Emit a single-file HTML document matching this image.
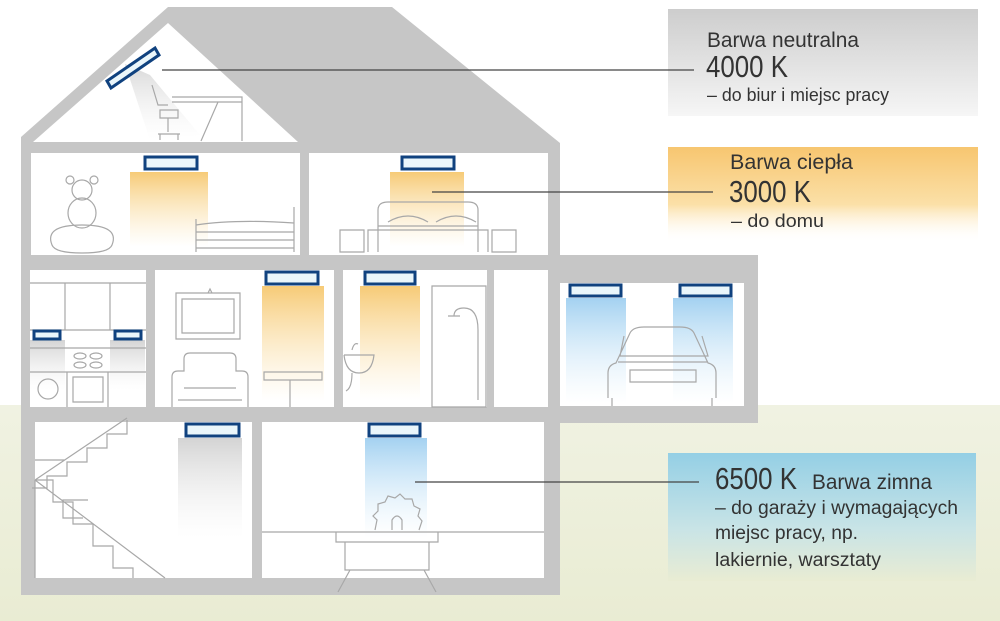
<!DOCTYPE html>
<html><head><meta charset="utf-8"><style>
html,body{margin:0;padding:0;background:#fff}
svg{display:block}
text{font-family:"Liberation Sans Narrow","Liberation Sans",sans-serif;fill:#333}
</style></head><body>
<svg width="1000" height="621" viewBox="0 0 1000 621" xmlns="http://www.w3.org/2000/svg">
<defs>
<linearGradient id="gbg" x1="0" y1="0" x2="0" y2="1"><stop offset="0" stop-color="#f0f2e2"/><stop offset="1" stop-color="#e9ecd3"/></linearGradient>
<linearGradient id="warm" x1="0" y1="0" x2="0" y2="1"><stop offset="0" stop-color="#f6c870" stop-opacity="0.95"/><stop offset="1" stop-color="#fbe3b0" stop-opacity="0"/></linearGradient>
<linearGradient id="cool" x1="0" y1="0" x2="0" y2="1"><stop offset="0" stop-color="#9fcff0" stop-opacity="0.95"/><stop offset="1" stop-color="#d6ecfa" stop-opacity="0"/></linearGradient>
<linearGradient id="neut" x1="0" y1="0" x2="0" y2="1"><stop offset="0" stop-color="#cfcfcf" stop-opacity="0.9"/><stop offset="1" stop-color="#eee" stop-opacity="0"/></linearGradient>
<linearGradient id="pgray" x1="0" y1="0" x2="0" y2="1"><stop offset="0" stop-color="#cdcdcd"/><stop offset="1" stop-color="#f6f6f6"/></linearGradient>
<linearGradient id="porange" x1="0" y1="0" x2="0" y2="1"><stop offset="0" stop-color="#f7c670"/><stop offset="0.6" stop-color="#fbe0a8"/><stop offset="1" stop-color="#fff" stop-opacity="0"/></linearGradient>
<linearGradient id="pblue" x1="0" y1="0" x2="0" y2="1"><stop offset="0" stop-color="#94cfe5"/><stop offset="0.6" stop-color="#c9e4e6"/><stop offset="1" stop-color="#e9ecd3"/></linearGradient>
</defs>
<rect x="0" y="405" width="1000" height="216" fill="url(#gbg)"/>

<polygon points="168,7 392,7 560,143 560,255 758,255 758,423 560,423 560,595 21,595 21,137" fill="#c6c6c6"/>
<polygon points="168,23 298,142 33,142" fill="#fff"/>
<g fill="#fff">
<rect x="31" y="153" width="269" height="102"/>
<rect x="309" y="153" width="239" height="102"/>
<rect x="30" y="270" width="116" height="137"/>
<rect x="155" y="270" width="179" height="137"/>
<rect x="343" y="270" width="144" height="137"/>
<rect x="494" y="270" width="54" height="137"/>
<rect x="35" y="422" width="217" height="156"/>
<rect x="262" y="422" width="282" height="156"/>
</g>
<rect x="560" y="283" width="184" height="123" fill="#fff"/>

<polygon points="125,64 150,75 200,135 150,140" fill="url(#neut)" opacity="0.9"/>
<rect x="130" y="172" width="78" height="75" fill="url(#warm)"/>
<rect x="390" y="172" width="74" height="75" fill="url(#warm)"/>
<rect x="262" y="286" width="62" height="115" fill="url(#warm)"/>
<rect x="360" y="286" width="60" height="115" fill="url(#warm)"/>
<rect x="30" y="340" width="35" height="50" fill="url(#neut)"/>
<rect x="110" y="340" width="35" height="50" fill="url(#neut)"/>
<rect x="566" y="298" width="60" height="105" fill="url(#cool)"/>
<rect x="673" y="298" width="60" height="105" fill="url(#cool)"/>
<rect x="178" y="438" width="64" height="100" fill="url(#neut)"/>
<rect x="365" y="438" width="62" height="100" fill="url(#cool)"/>

<g fill="none" stroke="#a8a8a8" stroke-width="1.2">
<path d="M172,97 h70 v44 M242,102 h-70 M218,102 l-17,39 M152,85 l6,20 h10 M160,110 h18 v8 h-18z M168,118 v14 M158,134 h22 M160,134 v6 M178,134 v6"/>
<circle cx="82" cy="190" r="10"/><circle cx="70" cy="180" r="4"/><circle cx="94" cy="180" r="4"/>
<ellipse cx="82" cy="213" rx="14" ry="15"/>
<path d="M52,245 q-8,-20 30,-20 q38,0 30,20 q-3,8 -30,8 q-27,0 -30,-8z"/>
<path d="M196,252 v-33 M294,252 v-45 M196,225 q40,-6 98,-2 M196,232 h98 M196,240 h98 M196,248 h98"/>
<path d="M378,252 v-42 q0,-8 10,-8 h80 q10,0 10,8 v42 M368,252 v-22 h120 v22 M378,226 h100 M340,230 h24 v22 h-24z M492,230 h24 v22 h-24z M388,222 q20,-12 40,0 M436,222 q20,-12 40,0"/>
<path d="M30,283 h116 M30,330 h116 M65,283 v47 M110,283 v47 M30,348 h116 M30,372 h116 M67,372 v35 M108,372 v35 M73,377 h30 v25 h-30z"/>
<circle cx="48" cy="389" r="10"/>
<ellipse cx="80" cy="356" rx="6" ry="3"/><ellipse cx="96" cy="356" rx="6" ry="3"/><ellipse cx="80" cy="365" rx="6" ry="3"/><ellipse cx="96" cy="365" rx="6" ry="3"/>
<path d="M176,293 h64 v46 h-64z M182,299 h52 v34 h-52z M208,293 l2,-4 l2,4"/>
<path d="M172,407 v-30 q0,-6 6,-6 h6 v-12 q0,-6 6,-6 h40 q6,0 6,6 v12 h6 q6,0 6,6 v30 M184,388 h52 M178,400 h64"/>
<path d="M264,372 h58 v8 h-58z M290,380 v27"/>
<path d="M344,355 h30 q-2,18 -15,18 q-13,0 -15,-18 M352,373 q0,15 -6,18 M352,350 q2,-8 6,-6"/>
<path d="M432,286 h54 v121 h-54z M478,400 v-70 q0,-22 -14,-22 q-10,0 -10,8 M448,316 h12"/>
<path d="M608,398 v-25 q0,-8 8,-10 l14,-30 q3,-6 14,-6 h36 q11,0 14,6 l14,30 q8,2 8,10 v25 M618,362 h90 M630,370 h66 v12 h-66z M612,398 v8 M712,398 v8 M624,336 l-4,20 h88 l-6,-20"/>
<path d="M35,480 l92,-62 M35,480 l130,98 M35,480 v98 M35,480 h18 v22 h20 v22 h20 v22 h20 v22 h20 v10 M127,420 v14 h-20 v14 h-20 v14 h-20 v14 h-20 v12 h-15 M65,460 h-30 M88,500 h-25 v18 h20"/>
<path d="M262,532 h282 M336,532 h102 v10 h-102z M345,542 h84 v28 h-84z M350,570 l-12,22 M424,570 l12,22"/>
<path d="M375,530 l2,-10 l-4,-4 l5,-5 l0,-7 l7,-2 l3,-6 l7,2 l5,-4 l5,5 l7,0 l2,7 l6,3 l-2,7 l4,5 l-3,9 M392,530 v-10 q5,-8 10,0 v10"/>
</g>

<g fill="#eaf6fb" stroke="#10427f" stroke-width="3">
<polygon points="107,81 155,48 159,55 111,88"/>
<rect x="145" y="157" width="52" height="12"/>
<rect x="402" y="157" width="52" height="12"/>
<rect x="266" y="272" width="52" height="12"/>
<rect x="365" y="272" width="50" height="12"/>
<rect x="34" y="331" width="26" height="8"/>
<rect x="115" y="331" width="26" height="8"/>
<rect x="570" y="285" width="51" height="11"/>
<rect x="680" y="285" width="51" height="11"/>
<rect x="186" y="424" width="53" height="12"/>
<rect x="369" y="424" width="51" height="12"/>
</g>

<rect x="668" y="9" width="310" height="107" fill="url(#pgray)"/>
<rect x="668" y="147" width="310" height="96" fill="url(#porange)"/>
<rect x="668" y="453" width="308" height="128" fill="url(#pblue)"/>

<g stroke="#444" stroke-width="1.2">
<line x1="162" y1="70" x2="694" y2="70"/>
<line x1="432" y1="192" x2="713" y2="192"/>
<line x1="415" y1="482" x2="699" y2="482"/>
</g>

<text x="707" y="47" font-size="21" textLength="152" lengthAdjust="spacingAndGlyphs">Barwa neutralna</text>
<text x="706" y="77" font-size="31" textLength="82" lengthAdjust="spacingAndGlyphs">4000 K</text>
<text x="707" y="101" font-size="18" textLength="182" lengthAdjust="spacingAndGlyphs">– do biur i miejsc pracy</text>
<text x="730" y="169" font-size="21" textLength="123" lengthAdjust="spacingAndGlyphs">Barwa ciepła</text>
<text x="729" y="202" font-size="31" textLength="82" lengthAdjust="spacingAndGlyphs">3000 K</text>
<text x="731" y="227" font-size="18" textLength="93" lengthAdjust="spacingAndGlyphs">– do domu</text>
<text x="715" y="489" font-size="31" textLength="82" lengthAdjust="spacingAndGlyphs">6500 K</text>
<text x="812" y="489" font-size="21" textLength="120" lengthAdjust="spacingAndGlyphs">Barwa zimna</text>
<text x="715" y="514" font-size="19" textLength="243" lengthAdjust="spacingAndGlyphs">– do garaży i wymagających</text>
<text x="715" y="539" font-size="19" textLength="143" lengthAdjust="spacingAndGlyphs">miejsc pracy, np.</text>
<text x="715" y="566" font-size="19" textLength="166" lengthAdjust="spacingAndGlyphs">lakiernie, warsztaty</text>
</svg>
</body></html>
